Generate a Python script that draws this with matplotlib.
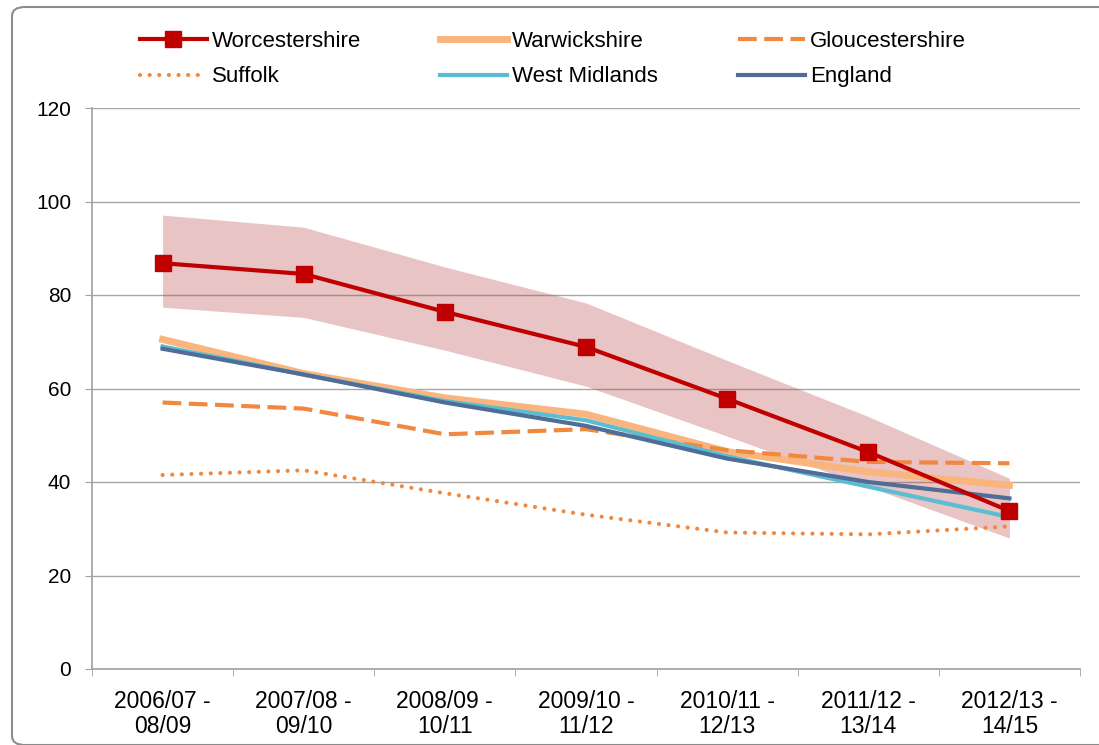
import numpy as np
from matplotlib import pyplot as plt
from matplotlib.patches import FancyBboxPatch

periods = ["2006/07 -\n08/09", "2007/08 -\n09/10", "2008/09 -\n10/11", "2009/10 -\n11/12",
           "2010/11 -\n12/13", "2011/12 -\n13/14", "2012/13 -\n14/15"]

worcestershire = [86.8, 84.5, 76.4, 68.9, 57.8, 46.4, 33.8]
worc_upper = [97.1, 94.5, 86.0, 78.3, 66.0, 54.0, 40.8]
worc_lower = [77.4, 75.2, 68.2, 60.5, 49.8, 39.0, 28.0]
warwickshire = [70.5, 63.2, 58.0, 54.5, 46.5, 42.2, 39.3]
gloucestershire = [57.0, 55.7, 50.2, 51.3, 46.8, 44.3, 44.0]
suffolk = [41.5, 42.5, 37.6, 33.0, 29.2, 28.8, 30.5]
west_midlands = [69.0, 63.0, 57.3, 53.2, 45.5, 39.0, 32.5]
england = [68.5, 63.0, 57.0, 52.0, 45.0, 40.0, 36.5]

plt.rcParams.update({
    "font.family": ["Liberation Sans", "DejaVu Sans"],
    "font.size": 15,
})

W, H = 1099, 745
fig = plt.figure(figsize=(W / 100, H / 100), dpi=100)
fig.patches.append(FancyBboxPatch((12 / W, 0.0), 1.2, 1 - 7 / H, boxstyle="round,pad=0,rounding_size=0.012",
                                  transform=fig.transFigure, facecolor="white",
                                  edgecolor="#8c8c8c", linewidth=1.5, zorder=-1))
ax = fig.add_axes([92 / W, 1 - 669 / H, (1080 - 92) / W, (669 - 108) / H])
ax.set_facecolor("none")

x = np.arange(len(periods))

ax.fill_between(x, worc_lower, worc_upper, color="#b84a4a", alpha=0.32, linewidth=0, zorder=2)
h_worc, = ax.plot(x, worcestershire, color="#c00000", lw=3, marker="s", markersize=12,
                  label="Worcestershire", zorder=6)
h_warw, = ax.plot(x, warwickshire, color="#fab57f", lw=5, label="Warwickshire", zorder=3)
h_glou, = ax.plot(x, gloucestershire, color="#f0893f", lw=3, ls=(0, (4.5, 1.8)),
                  label="Gloucestershire", zorder=3)
h_suff, = ax.plot(x, suffolk, color="#f0893f", lw=3, ls=(0, (0.01, 2.3)), dash_capstyle="round",
                  label="Suffolk", zorder=3)
h_wm, = ax.plot(x, west_midlands, color="#5bbdd1", lw=3, label="West Midlands", zorder=4)
h_eng, = ax.plot(x, england, color="#4f6d96", lw=3, label="England", zorder=5)

ax.set_xlim(-0.5, len(periods) - 0.5)
ax.set_ylim(0, 120)
ax.set_yticks(range(0, 121, 20))
ax.set_xticks(x)
ax.set_xticklabels(periods, fontsize=16.5, linespacing=1.1)
ax.set_xticks(np.arange(-0.5, len(periods)), minor=True)
ax.tick_params(axis="x", which="major", length=0, pad=15)
ax.tick_params(axis="x", which="minor", length=5, color="#a0a0a0")
ax.tick_params(axis="y", length=5, color="#a0a0a0", pad=10)
ax.grid(axis="y", color="#a6a6a6", linewidth=1)
ax.set_axisbelow(True)

for s in ["top", "right"]:
    ax.spines[s].set_visible(False)
for s in ["left", "bottom"]:
    ax.spines[s].set_color("#a0a0a0")
    ax.spines[s].set_linewidth(1.2)

# legend: three columns, placed one by one so they line up with the reference
columns = [(140, [h_worc, h_suff]), (440, [h_warw, h_wm]), (738, [h_glou, h_eng])]
for xpx, handles in columns:
    leg = fig.legend(handles=handles, loc="upper left", bbox_to_anchor=(xpx / W, 1 - 31 / H),
                     frameon=False, fontsize=16, handlelength=3.0, handletextpad=0.25,
                     borderpad=0, borderaxespad=0, labelspacing=0.65)

plt.savefig("out.png", dpi=100)
